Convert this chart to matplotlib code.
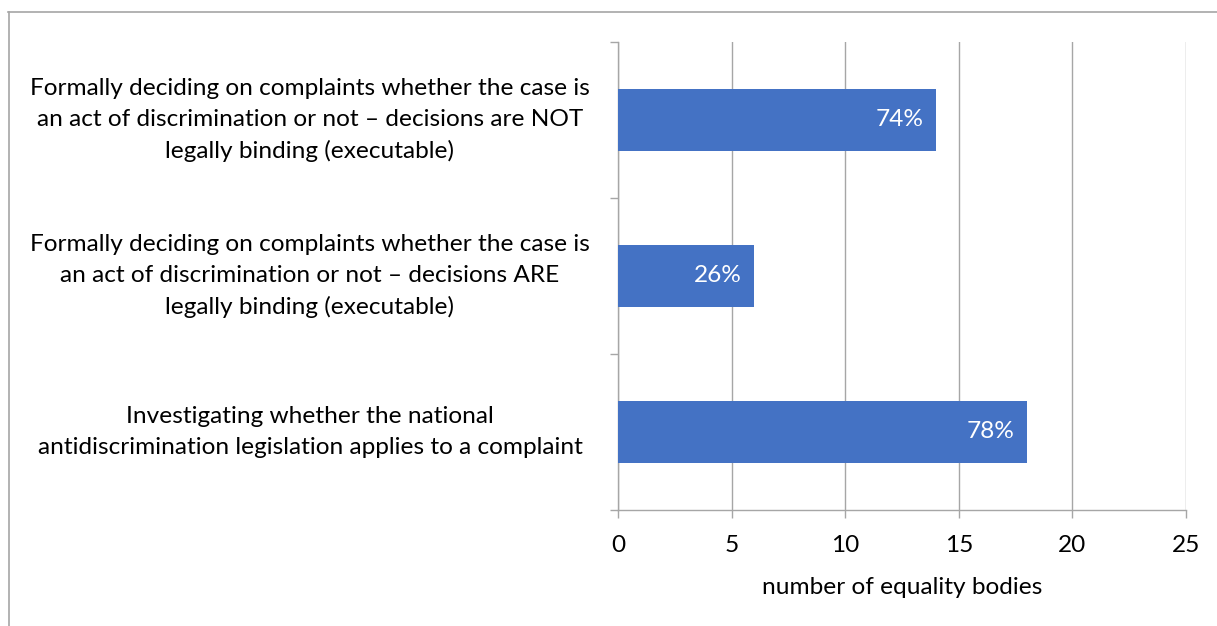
import matplotlib
matplotlib.use('Agg')
import matplotlib.pyplot as plt
from matplotlib.lines import Line2D
import numpy as np

# Data
categories = [
    "Formally deciding on complaints whether the case is\nan act of discrimination or not \u2013 decisions are NOT\nlegally binding (executable)",
    "Formally deciding on complaints whether the case is\nan act of discrimination or not \u2013 decisions ARE\nlegally binding (executable)",
    "Investigating whether the national\nantidiscrimination legislation applies to a complaint",
]
counts = [14, 6, 18]
pct_labels = ["74%", "26%", "78%"]
x_ticks = [0, 5, 10, 15, 20, 25]

plt.rcParams['font.family'] = ['Lato', 'DejaVu Sans']
fs = 17.6

W, H = 1217, 626
fig = plt.figure(figsize=(W / 100, H / 100), dpi=100)
fig.patch.set_facecolor('white')
ax = fig.add_axes([618 / W, 1 - 510 / H, (1186 - 618) / W, (510 - 42) / H])

gray = '#A6A6A6'
bar_color = '#4472C4'

y_pos = np.arange(len(categories)) + 0.5
bars = ax.barh(y_pos, counts, height=0.4, color=bar_color, zorder=3)

ax.set_xlim(0, 25)
ax.set_ylim(len(categories), 0)
ax.set_xticks(x_ticks)
ax.set_xticklabels([str(t) for t in x_ticks], fontsize=fs, color='black')
ax.set_yticks(np.arange(len(categories) + 1))
ax.set_yticklabels([])
ax.tick_params(axis='x', length=6, width=1, color=gray, pad=12)
ax.tick_params(axis='y', length=6, width=1, color=gray)
ax.grid(axis='x', color=gray, linewidth=1, zorder=0)

for side in ['top', 'right']:
    ax.spines[side].set_visible(False)
for side in ['left', 'bottom']:
    ax.spines[side].set_color(gray)
    ax.spines[side].set_linewidth(1)

ax.set_xlabel("number of equality bodies", fontsize=fs, labelpad=15)

# category labels, centered in the left margin
tr = ax.get_yaxis_transform()
for y, lab in zip(y_pos, categories):
    ax.text((310 - 618) / 568, y, lab, transform=tr, ha='center', va='center',
            multialignment='center', fontsize=fs, linespacing=1.56)

# value labels inside bar ends
for bar, lab in zip(bars, pct_labels):
    ax.text(bar.get_width() - 0.55, bar.get_y() + bar.get_height() / 2, lab,
            ha='right', va='center', color='white', fontsize=fs, zorder=4)

# outer chart frame
fig.add_artist(Line2D([8 / W, 1], [1 - 12 / H, 1 - 12 / H], transform=fig.transFigure,
                      color=gray, linewidth=1.2))
fig.add_artist(Line2D([9 / W, 9 / W], [0, 1 - 12 / H], transform=fig.transFigure,
                      color=gray, linewidth=1.2))

fig.savefig("out.png", dpi=100, facecolor='white')
